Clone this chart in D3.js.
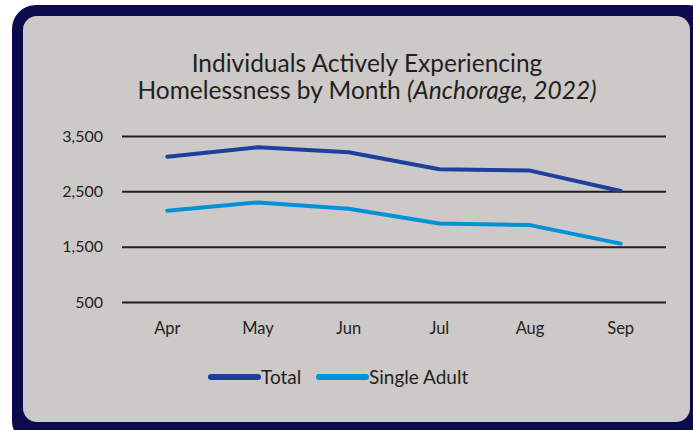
<!DOCTYPE html>
<html>
<head>
<meta charset="utf-8">
<script src="https://cdn.jsdelivr.net/npm/d3@7"></script>
<style>
  body { margin: 0; background: #ffffff; }
  svg text { font-family: "Lato", "DejaVu Sans", sans-serif; fill: #231f20; }
</style>
</head>
<body>
<div id="chart"></div>
<script>
// data
var months = ["Apr", "May", "Jun", "Jul", "Aug", "Sep"];
var totalValues = [3125, 3295, 3205, 2900, 2875, 2505];
var singleAdultValues = [2150, 2300, 2185, 1920, 1890, 1555];
var yTicks = [500, 1500, 2500, 3500];
var seriesNames = ["Total", "Single Adult"];
var seriesColors = ["#1f3f9c", "#0092d9"];

var svgWidth = 693;
var svgHeight = 430;

var svg = d3.select("#chart")
  .append("svg")
  .attr("width", svgWidth)
  .attr("height", svgHeight);

// outer frame
svg.append("rect")
  .attr("x", 12).attr("y", 5)
  .attr("width", 700).attr("height", 440)
  .attr("rx", 24)
  .attr("fill", "#0b0a4c");

svg.append("rect")
  .attr("x", 23).attr("y", 16)
  .attr("width", 667).attr("height", 406)
  .attr("rx", 14)
  .attr("fill", "#cdc9c9");

// title
var title = svg.append("text")
  .attr("text-anchor", "middle")
  .style("font-size", "24.5px");
title.append("tspan")
  .attr("x", 367).attr("y", 72)
  .text("Individuals Actively Experiencing");
var line2 = title.append("tspan")
  .attr("x", 367).attr("y", 99);
line2.append("tspan").text("Homelessness by Month ");
line2.append("tspan").style("font-style", "italic").text("(Anchorage, 2022)");

// scales
var x = d3.scaleBand()
  .domain(months)
  .range([122, 666]);

var y = d3.scaleLinear()
  .domain([500, 3500])
  .range([302, 136]);

// gridlines
var yAxis = d3.axisLeft(y)
  .tickValues(yTicks)
  .tickSize(-(666 - 122))
  .tickPadding(19)
  .tickFormat(d3.format(","));

var yG = svg.append("g")
  .attr("transform", "translate(122,0)")
  .call(yAxis);
yG.select(".domain").remove();
yG.selectAll(".tick line")
  .attr("stroke", "#231f20")
  .attr("stroke-width", 2);
yG.selectAll(".tick text")
  .style("font-size", "16px")
  .attr("fill", "#231f20");

// x axis labels
var xAxis = d3.axisBottom(x)
  .tickSize(0)
  .tickPadding(0);

var xG = svg.append("g")
  .attr("transform", "translate(0,322)")
  .call(xAxis);
xG.select(".domain").remove();
xG.selectAll(".tick text")
  .style("font-size", "16.5px")
  .attr("fill", "#231f20")
  .attr("dy", "0.71em");

// lines
var line = d3.line()
  .x((d, i) => x(months[i]) + x.bandwidth() / 2)
  .y(d => y(d));

[totalValues, singleAdultValues].forEach((vals, k) => {
  svg.append("path")
    .datum(vals)
    .attr("d", line)
    .attr("fill", "none")
    .attr("stroke", seriesColors[k])
    .attr("stroke-width", 4)
    .attr("stroke-linejoin", "round")
    .attr("stroke-linecap", "round");
});

// legend
var legendX = [211, 319];
seriesNames.forEach((name, k) => {
  svg.append("line")
    .attr("x1", legendX[k]).attr("x2", legendX[k] + 47)
    .attr("y1", 377).attr("y2", 377)
    .attr("stroke", seriesColors[k])
    .attr("stroke-width", 6)
    .attr("stroke-linecap", "round");
  svg.append("text")
    .attr("x", legendX[k] + 50)
    .attr("y", 384)
    .style("font-size", "19px")
    .text(name);
});
</script>
</body>
</html>
